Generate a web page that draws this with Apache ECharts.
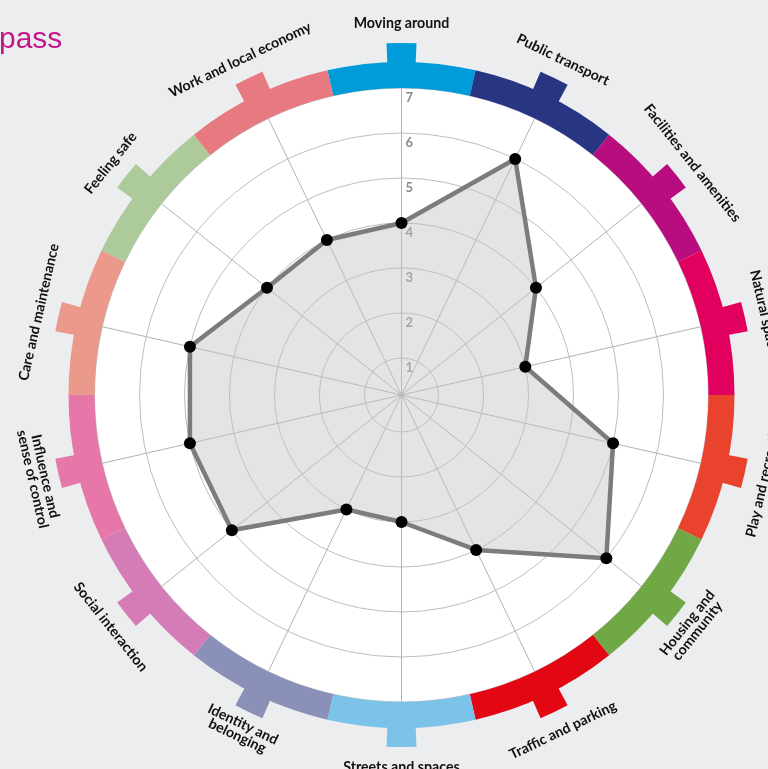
<!DOCTYPE html>
<html>
<head>
<meta charset="utf-8">
<script src="https://cdn.jsdelivr.net/npm/echarts@6/dist/echarts.min.js"></script>
<style>
	html, body { margin: 0; padding: 0; background: #ecedef; }
	#chart { width: 768px; height: 769px; }
</style>
</head>
<body>
<div id="chart"></div>
<script>
// categories, clockwise from the top
var categories = [
	"Moving around",
	"Public transport",
	"Facilities and amenities",
	"Natural space",
	"Play and recreation",
	"Housing and\ncommunity",
	"Traffic and parking",
	"Streets and spaces",
	"Identity and\nbelonging",
	"Social interaction",
	"Influence and\nsense of control",
	"Care and maintenance",
	"Feeling safe",
	"Work and local economy"
];
var scores = [4, 6, 4, 3, 5, 6, 4, 3, 3, 5, 5, 5, 4, 4];
var segmentColors = [
	"#009bd9", "#283583", "#b70d7f", "#e1005e", "#e9432d", "#6fa845", "#e30613",
	"#7bc3e8", "#8a90b8", "#d57bb6", "#e677a8", "#ea998b", "#adca9a", "#e67a80"
];
var scaleMin = 1;
var scaleMax = 7;

var center = [401.5, 395];
var firstRing = 37;   // radius of ring "1"
var ringStep = 45;    // px per point
var outerRadius = firstRing + ringStep * (scaleMax - scaleMin);
// value at the very centre, so that the radar scale lines up with the rings
var radarMin = scaleMin - firstRing / ringStep;

var segDeg = 360 / categories.length;
var tabFrac = 0.19;

// radar lays indicators out anticlockwise, so reverse all but the first
var order = [0];
for (var i = categories.length - 1; i > 0; i--) {
	order.push(i);
}
var radarValues = order.map(function (i) { return scores[i]; });

var chart = echarts.init(document.getElementById("chart"));

var ringData = categories.map(function (name, i) {
	return { name: name, value: 1, itemStyle: { color: segmentColors[i] } };
});
var tabData = [];
categories.forEach(function (name, i) {
	tabData.push({ name: name, value: tabFrac, itemStyle: { color: segmentColors[i] } });
	tabData.push({ name: "", value: 1 - tabFrac, itemStyle: { color: "rgba(0,0,0,0)" } });
});
var labelData = categories.map(function (name) {
	return { name: name, value: 1 };
});

var option = {
	backgroundColor: "#ecedef",
	animation: false,
	title: {
		text: "pass",
		left: -6,
		top: 20,
		textStyle: {
			color: "#c4168b",
			fontSize: 30,
			fontWeight: "normal",
			fontFamily: "Liberation Sans"
		}
	},
	radar: {
		center: center,
		radius: outerRadius,
		startAngle: 90,
		shape: "circle",
		splitNumber: 1,
		indicator: order.map(function (i) {
			return { name: categories[i], min: radarMin, max: scaleMax };
		}),
		axisName: { show: false },
		splitLine: { show: false },
		splitArea: { show: true, areaStyle: { color: ["#ffffff"] } },
		axisLine: { lineStyle: { color: "#b3b3b3", width: 1 } },
		axisTick: { show: false },
		axisLabel: { show: false }
	},
	polar: {
		center: center,
		radius: [firstRing, outerRadius]
	},
	angleAxis: {
		type: "value",
		startAngle: 90,
		axisLine: { show: false },
		axisTick: { show: false },
		axisLabel: { show: false },
		splitLine: { show: false }
	},
	radiusAxis: {
		type: "value",
		min: scaleMin,
		max: scaleMax,
		interval: 1,
		z: 1,
		axisLine: { show: false },
		axisTick: { show: false },
		splitLine: { show: true, lineStyle: { color: "#bdbdbd", width: 1 } },
		axisLabel: {
			margin: 3,
			align: "left",
			verticalAlign: "top",
			padding: [3, 0, 0, 7],
			color: "#8a8a8a",
			fontSize: 13,
			fontWeight: "bold",
			fontFamily: "Lato"
		}
	},
	series: [
		{
			// fill only, underneath the outline
			type: "radar",
			z: 4,
			symbol: "none",
			lineStyle: { width: 0, opacity: 0 },
			areaStyle: { color: "#c4c4c4", opacity: 0.45 },
			data: [{ value: radarValues }]
		},
		{
			type: "radar",
			z: 5,
			symbol: "circle",
			symbolSize: 12,
			itemStyle: { color: "#000000" },
			lineStyle: { color: "#7c7c7c", width: 4.5, opacity: 1 },
			data: [{ value: radarValues }]
		},
		{
			type: "pie",
			silent: true,
			center: center,
			radius: [outerRadius, outerRadius + 26],
			startAngle: 90 + segDeg / 2,
			label: { show: false },
			labelLine: { show: false },
			data: ringData
		},
		{
			type: "pie",
			silent: true,
			center: center,
			radius: [outerRadius + 20, outerRadius + 45],
			startAngle: 90 + segDeg * tabFrac / 2,
			label: { show: false },
			labelLine: { show: false },
			data: tabData
		},
		{
			type: "pie",
			silent: true,
			center: center,
			radius: [outerRadius + 48, outerRadius + 76],
			startAngle: 90 + segDeg / 2,
			itemStyle: { color: "rgba(0,0,0,0)" },
			labelLine: { show: false },
			label: {
				show: true,
				position: "inside",
				rotate: "tangential",
				formatter: "{b}",
				color: "#111111",
				fontSize: 14.2,
				fontWeight: "bold",
				fontFamily: "Lato",
				lineHeight: 13
			},
			data: labelData
		}
	]
};

chart.setOption(option);
</script>
</body>
</html>
